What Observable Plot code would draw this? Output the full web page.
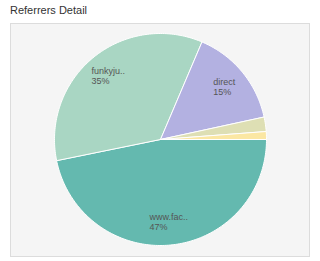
<!DOCTYPE html>
<html><head><meta charset="utf-8">
<script src="https://cdn.jsdelivr.net/npm/d3@7"></script>
<script src="https://cdn.jsdelivr.net/npm/@observablehq/plot@0.6"></script>
<style>
html,body{margin:0;padding:0;background:#fff;}
body{width:320px;height:261px;overflow:hidden;font-family:"Liberation Sans",Arial,Helvetica,sans-serif;}
#title{position:absolute;left:10px;top:4px;font-size:11px;color:#333;line-height:13px;}
#box{position:absolute;left:10px;top:23px;width:298px;height:232px;border:1px solid #dcdcdc;background:#f5f5f5;}
#box svg{display:block;background:transparent;}
</style></head><body>
<div id="title">Referrers Detail</div>
<div id="box"></div>
<script>
const referrers = ["www.facebook.com", "funkyjunkinteriors.net", "direct", "pinterest.com", "google.com"];
const shares = [46.8, 34.6, 15.2, 2.2, 1.2];
const colors = ["#64b9af", "#a9d6c3", "#b3b1e1", "#dedfb4", "#fbe7a3"];

const W = 298, H = 232, R = 106, CX = 149, CY = 115;
const total = d3.sum(shares);
let acc = 0;
const slices = referrers.map((name, i) => {
  const a0 = acc / total * 2 * Math.PI;
  acc += shares[i];
  const a1 = acc / total * 2 * Math.PI;
  return {name, share: shares[i], a0, a1};
});

const pts = [];
for (const s of slices) {
  pts.push({name: s.name, x: 0, y: 0});
  const n = Math.max(2, Math.ceil((s.a1 - s.a0) / (Math.PI / 180)));
  for (let k = 0; k <= n; k++) {
    const t = s.a0 + (s.a1 - s.a0) * k / n;
    pts.push({name: s.name, x: Math.cos(t), y: -Math.sin(t)});
  }
  pts.push({name: s.name, x: 0, y: 0});
}

const ctx = document.createElement("canvas").getContext("2d");
ctx.font = "9px 'Liberation Sans', Arial, sans-serif";
const labels = slices.filter(s => s.share / total >= 0.05).map(s => {
  const m = (s.a0 + s.a1) / 2;
  const short = s.name.length > 7 ? s.name.slice(0, 7) + ".." : s.name;
  const w = ctx.measureText(short).width;
  return {
    x: 0.78 * Math.cos(m) - (w / 2) / R,
    y: -0.78 * Math.sin(m),
    text: short + "\n" + Math.round(s.share / total * 100) + "%"
  };
});

const chart = Plot.plot({
  width: W, height: H, margin: 0,
  x: {domain: [-CX / R, (W - CX) / R], axis: null},
  y: {domain: [-(H - CY) / R, CY / R], axis: null},
  color: {domain: referrers, range: colors},
  style: {background: "transparent", fontFamily: "'Liberation Sans', Arial, sans-serif"},
  marks: [
    Plot.line(pts, {x: "x", y: "y", z: "name", fill: "name", stroke: "#fff", strokeWidth: 1, strokeLinejoin: "round", curve: "linear"}),
    Plot.text(labels, {x: "x", y: "y", text: "text", textAnchor: "start", lineAnchor: "middle", lineHeight: 1.1, fontSize: 9, fill: "#555"})
  ]
});
document.getElementById("box").appendChild(chart);
</script>
</body></html>
